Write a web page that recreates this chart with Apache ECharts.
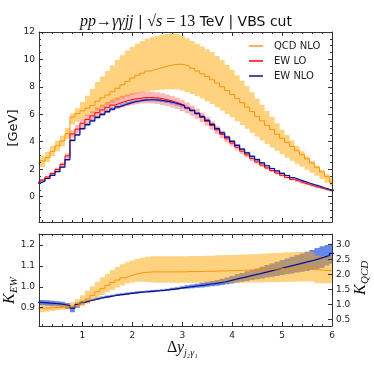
<!DOCTYPE html>
<html>
<head>
<meta charset="utf-8">
<script src="https://cdn.jsdelivr.net/npm/echarts@6/dist/echarts.min.js"></script>
<style>
  html, body { margin: 0; padding: 0; background: #fff; }
  #chart { width: 374px; height: 374px; }
</style>
</head>
<body>
<div id="chart"></div>
<script>
// bin centres, width 0.1
const binCenters = [0.1,0.2,0.3,0.4,0.5,0.6,0.7,0.8,0.9,1.0,
  1.1,1.2,1.3,1.4,1.5,1.6,1.7,1.8,1.9,2.0,
  2.1,2.2,2.3,2.4,2.5,2.6,2.7,2.8,2.9,3.0,
  3.1,3.2,3.3,3.4,3.5,3.6,3.7,3.8,3.9,4.0,
  4.1,4.2,4.3,4.4,4.5,4.6,4.7,4.8,4.9,5.0,
  5.1,5.2,5.3,5.4,5.5,5.6,5.7,5.8,5.9,6.0]

// QCD NLO
const qcdNlo = [2.45,2.60,2.85,3.30,3.70,4.05,4.60,5.80,6.05,6.25,
  6.45,6.65,6.95,7.20,7.40,7.65,7.90,8.15,8.40,8.65,
  8.85,9.00,9.15,9.25,9.35,9.45,9.55,9.62,9.65,9.62,
  9.50,9.35,9.15,8.95,8.75,8.52,8.28,8.00,7.72,7.45,
  7.15,6.85,6.52,6.20,5.85,5.52,5.20,4.88,4.55,4.25,
  3.95,3.65,3.35,3.05,2.75,2.45,2.15,1.80,1.45,1.05]
const qcdNloHigh = [2.90,2.95,3.25,3.70,4.10,4.45,5.00,6.05,6.45,6.90,
  7.35,7.85,8.35,8.75,9.15,9.55,9.95,10.30,10.65,10.90,
  11.15,11.35,11.50,11.62,11.72,11.80,11.86,11.90,11.88,11.75,
  11.55,11.35,11.15,10.95,10.75,10.55,10.25,9.95,9.60,9.25,
  8.85,8.45,8.05,7.60,7.15,6.70,6.25,5.80,5.35,4.90,
  4.50,4.10,3.70,3.30,2.95,2.60,2.25,1.95,1.65,1.35]
const qcdNloLow = [2.10,2.15,2.50,2.95,3.30,3.65,4.20,5.25,5.45,5.70,
  5.90,6.10,6.30,6.50,6.68,6.85,7.00,7.15,7.30,7.42,
  7.52,7.60,7.68,7.74,7.78,7.80,7.82,7.82,7.80,7.74,
  7.62,7.48,7.32,7.15,6.95,6.75,6.52,6.28,6.02,5.76,
  5.50,5.22,4.94,4.66,4.38,4.10,3.84,3.58,3.32,3.08,
  2.84,2.62,2.40,2.18,1.96,1.74,1.52,1.28,1.02,0.75]

// EW LO
const ewLo = [1.06,1.21,1.43,1.68,1.98,2.35,2.97,4.57,4.92,5.35,
  5.63,5.88,6.12,6.32,6.51,6.67,6.81,6.93,7.03,7.11,
  7.16,7.21,7.23,7.21,7.18,7.10,7.02,6.92,6.79,6.65,
  6.47,6.27,6.04,5.78,5.49,5.18,4.86,4.54,4.21,3.90,
  3.60,3.31,3.04,2.77,2.53,2.30,2.09,1.90,1.72,1.56,
  1.40,1.25,1.12,0.99,0.88,0.77,0.67,0.57,0.47,0.38]
const ewLoLow = [1.00,1.14,1.34,1.58,1.86,2.21,2.79,4.30,4.62,5.03,
  5.29,5.53,5.75,5.94,6.12,6.27,6.40,6.51,6.61,6.68,
  6.73,6.78,6.80,6.78,6.75,6.67,6.60,6.50,6.38,6.25,
  6.08,5.89,5.68,5.43,5.16,4.87,4.57,4.27,3.96,3.67,
  3.38,3.11,2.86,2.60,2.38,2.16,1.96,1.79,1.62,1.47,
  1.32,1.18,1.05,0.93,0.83,0.72,0.63,0.54,0.44,0.36]
const ewLoHigh = [1.12,1.28,1.52,1.78,2.10,2.49,3.15,4.84,5.22,5.67,
  5.97,6.23,6.49,6.70,6.90,7.07,7.22,7.35,7.45,7.54,
  7.59,7.64,7.66,7.64,7.61,7.53,7.44,7.34,7.20,7.05,
  6.86,6.65,6.40,6.13,5.82,5.49,5.15,4.81,4.46,4.13,
  3.82,3.51,3.22,2.94,2.68,2.44,2.22,2.01,1.82,1.65,
  1.48,1.33,1.19,1.05,0.93,0.82,0.71,0.60,0.50,0.40]

// EW NLO
const ewNlo = [0.98,1.12,1.32,1.55,1.82,2.15,2.70,4.10,4.50,4.95,
  5.25,5.52,5.78,6.00,6.20,6.38,6.54,6.68,6.80,6.90,
  6.97,7.03,7.06,7.06,7.04,6.98,6.92,6.84,6.74,6.62,
  6.46,6.28,6.07,5.83,5.56,5.26,4.95,4.64,4.33,4.03,
  3.74,3.46,3.19,2.93,2.69,2.46,2.25,2.05,1.87,1.70,
  1.54,1.38,1.24,1.11,0.99,0.87,0.76,0.65,0.54,0.44]
const ewNloLow = [0.93,1.07,1.27,1.50,1.77,2.08,2.62,4.02,4.42,4.86,
  5.15,5.42,5.68,5.90,6.10,6.28,6.44,6.58,6.70,6.80,
  6.87,6.93,6.96,6.96,6.94,6.88,6.82,6.74,6.64,6.52,
  6.36,6.18,5.97,5.73,5.46,5.16,4.86,4.56,4.25,3.95,
  3.66,3.38,3.11,2.85,2.61,2.39,2.18,1.99,1.82,1.65,
  1.49,1.33,1.19,1.06,0.94,0.83,0.72,0.61,0.50,0.40]
const ewNloHigh = [1.03,1.17,1.37,1.60,1.87,2.22,2.78,4.18,4.58,5.04,
  5.35,5.62,5.88,6.10,6.30,6.48,6.64,6.78,6.90,7.00,
  7.07,7.13,7.16,7.16,7.14,7.08,7.02,6.94,6.84,6.72,
  6.56,6.38,6.17,5.93,5.66,5.36,5.04,4.72,4.41,4.11,
  3.82,3.54,3.27,3.01,2.77,2.53,2.32,2.11,1.92,1.75,
  1.59,1.43,1.29,1.16,1.04,0.91,0.80,0.69,0.58,0.48]

// K_EW = NLO/LO (left axis of ratio panel)
const kEw = [0.925,0.924,0.922,0.920,0.918,0.915,0.910,0.898,0.915,0.925,
  0.932,0.938,0.944,0.949,0.953,0.957,0.961,0.964,0.967,0.970,
  0.973,0.975,0.977,0.979,0.981,0.983,0.986,0.989,0.992,0.996,
  0.999,1.002,1.005,1.008,1.012,1.015,1.019,1.023,1.028,1.034,
  1.040,1.045,1.051,1.057,1.062,1.068,1.074,1.080,1.086,1.092,
  1.098,1.104,1.110,1.116,1.122,1.128,1.135,1.142,1.150,1.160]
const kEwLow = [0.912,0.911,0.909,0.907,0.905,0.902,0.894,0.878,0.900,0.915,
  0.925,0.932,0.938,0.944,0.948,0.952,0.956,0.959,0.962,0.965,
  0.968,0.970,0.972,0.974,0.976,0.978,0.981,0.983,0.986,0.989,
  0.991,0.993,0.995,0.997,1.000,1.002,1.005,1.008,1.012,1.016,
  1.020,1.024,1.028,1.032,1.036,1.040,1.044,1.048,1.052,1.056,
  1.060,1.064,1.068,1.072,1.076,1.080,1.084,1.090,1.102,1.110]
const kEwHigh = [0.938,0.937,0.935,0.933,0.931,0.928,0.922,0.910,0.925,0.933,
  0.938,0.943,0.949,0.954,0.958,0.962,0.966,0.969,0.972,0.975,
  0.978,0.980,0.982,0.984,0.986,0.988,0.991,0.995,0.998,1.003,
  1.007,1.011,1.015,1.019,1.024,1.028,1.033,1.038,1.044,1.052,
  1.060,1.066,1.074,1.082,1.088,1.096,1.104,1.112,1.120,1.128,
  1.136,1.144,1.152,1.160,1.168,1.176,1.186,1.194,1.200,1.206]

// K_QCD (right axis of ratio panel)
const kQcd = [0.87,0.87,0.88,0.89,0.90,0.91,0.92,0.94,1.00,1.08,
  1.18,1.30,1.42,1.53,1.63,1.73,1.81,1.88,1.94,1.99,
  2.03,2.06,2.07,2.08,2.08,2.08,2.08,2.08,2.08,2.08,
  2.09,2.09,2.09,2.10,2.10,2.10,2.11,2.11,2.12,2.12,
  2.13,2.13,2.14,2.14,2.15,2.16,2.16,2.17,2.18,2.19,
  2.20,2.20,2.21,2.22,2.23,2.22,2.15,2.13,2.13,2.13]
const kQcdHigh = [0.98,0.98,0.98,0.98,0.99,1.00,1.02,1.07,1.17,1.30,
  1.45,1.60,1.75,1.90,2.02,2.14,2.24,2.33,2.40,2.46,
  2.51,2.55,2.58,2.60,2.60,2.60,2.60,2.60,2.60,2.60,
  2.60,2.61,2.61,2.61,2.62,2.62,2.63,2.63,2.64,2.64,
  2.65,2.65,2.66,2.67,2.67,2.68,2.69,2.70,2.71,2.72,
  2.73,2.73,2.74,2.74,2.75,2.74,2.62,2.60,2.60,2.60]
const kQcdLow = [0.72,0.74,0.76,0.78,0.80,0.82,0.84,0.88,0.90,0.94,
  1.02,1.12,1.22,1.31,1.40,1.48,1.56,1.63,1.69,1.73,
  1.75,1.75,1.74,1.73,1.72,1.72,1.72,1.72,1.72,1.72,
  1.72,1.72,1.72,1.72,1.72,1.72,1.72,1.72,1.72,1.72,
  1.72,1.72,1.72,1.73,1.73,1.73,1.74,1.74,1.74,1.74,
  1.75,1.75,1.76,1.76,1.76,1.76,1.70,1.70,1.70,1.70]

// ticks
const xMajorTicks = [1,2,3,4,5,6]
const xMinorTicks = [0.2,0.4,0.6,0.8,1.2,1.4,1.6,1.8,2.2,2.4,2.6,2.8,
  3.2,3.4,3.6,3.8,4.2,4.4,4.6,4.8,5.2,5.4,5.6,5.8]
const yMajorTicks = [0,2,4,6,8,10,12]
const yMinorTicks = [-1.5,-1,-0.5,0.5,1,1.5,2.5,3,3.5,4.5,5,5.5,6.5,7,7.5,
  8.5,9,9.5,10.5,11,11.5]
const kEwTicks = [0.9,1.0,1.1,1.2]
const kQcdTicks = [0.5,1.0,1.5,2.0,2.5,3.0]

const X_MIN = 0.13, X_MAX = 6
const HALF = 0.05
const axisColor = '#333'

// step line points (left edges + last right edge)
function stepData (vals) {
  let d = binCenters.map((c, i) => [c - HALF, vals[i]])
  let n = binCenters.length - 1
  d.push([binCenters[n] + HALF, vals[n]])
  return d
}

// filled band between low and high as one polygon
function band (name, low, high, color, xi, yi) {
  return {
    type: 'custom',
    name: name,
    xAxisIndex: xi,
    yAxisIndex: yi,
    silent: true,
    clip: true,
    data: [[1, 1]],
    renderItem: function (params, api) {
      let top = [], bot = []
      binCenters.forEach((c, i) => {
        let x0 = Math.max(c - HALF, X_MIN), x1 = Math.min(c + HALF, X_MAX)
        top.push(api.coord([x0, high[i]]), api.coord([x1, high[i]]))
        bot.push(api.coord([x0, low[i]]), api.coord([x1, low[i]]))
      })
      return { type: 'polygon', shape: { points: top.concat(bot.reverse()) }, style: { fill: color } }
    },
  }
}

function stepLine (name, vals, color, xi, yi, width) {
  return {
    type: 'line', name: name, xAxisIndex: xi, yAxisIndex: yi,
    data: stepData(vals), step: 'end', showSymbol: false, symbol: 'none',
    color: color, lineStyle: { color: color, width: width || 1 }, z: 3,
  }
}

function xAx (grid, pos, ticks, len, line, labels) {
  return {
    type: 'value', gridIndex: grid, position: pos, min: X_MIN, max: X_MAX, z: 10,
    axisLine: { show: line, onZero: false, lineStyle: { color: axisColor, width: 1 } },
    axisTick: { show: true, inside: true, length: len, customValues: ticks, lineStyle: { color: axisColor } },
    axisLabel: { show: labels, customValues: ticks, fontSize: 9, color: '#222', margin: 5, fontFamily: 'DejaVu Sans' },
    splitLine: { show: false },
  }
}

function yAx (grid, pos, min, max, ticks, len, line, labels, fmt) {
  return {
    type: 'value', gridIndex: grid, position: pos, min: min, max: max, z: 10,
    axisLine: { show: line, onZero: false, lineStyle: { color: axisColor, width: 1 } },
    axisTick: { show: true, inside: true, length: len, customValues: ticks, lineStyle: { color: axisColor } },
    axisLabel: { show: labels, customValues: ticks, fontSize: 9, color: '#222', margin: 4, fontFamily: 'DejaVu Sans', formatter: fmt },
    splitLine: { show: false },
  }
}

const serif = 'Liberation Serif'
const oneDec = v => v.toFixed(1)

let myChart = echarts.init(document.getElementById('chart'), null, { renderer: 'canvas' })
myChart.setOption({
  animation: false,
  backgroundColor: '#fff',
  textStyle: { fontFamily: 'DejaVu Sans' },
  grid: [
    { left: 39, right: 42, top: 32, height: 190 },
    { left: 39, right: 42, top: 234, height: 92 },
  ],
  legend: {
    data: ['QCD NLO', 'EW LO', 'EW NLO'],
    orient: 'vertical', left: 244, top: 35,
    icon: 'rect', itemWidth: 14, itemHeight: 1.5, itemGap: 3,
    selectedMode: false,
    textStyle: { fontSize: 10, color: '#222', lineHeight: 12, padding: [0, 0, 0, 6] },
  },
  xAxis: [
    xAx(0, 'bottom', xMajorTicks, 4, true, false),
    xAx(0, 'bottom', xMinorTicks, 2, false, false),
    xAx(0, 'top', xMajorTicks, 4, true, false),
    xAx(0, 'top', xMinorTicks, 2, false, false),
    xAx(1, 'bottom', xMajorTicks, 4, true, true),
    xAx(1, 'bottom', xMinorTicks, 2, false, false),
    xAx(1, 'top', xMajorTicks, 4, true, false),
    xAx(1, 'top', xMinorTicks, 2, false, false),
  ],
  yAxis: [
    yAx(0, 'left', -1.85, 12, yMajorTicks, 4, true, true),
    yAx(0, 'left', -1.85, 12, yMinorTicks, 2, false, false),
    yAx(0, 'right', -1.85, 12, yMajorTicks, 4, true, false),
    yAx(0, 'right', -1.85, 12, yMinorTicks, 2, false, false),
    yAx(1, 'left', 0.812, 1.253, kEwTicks, 4, true, true, oneDec),
    yAx(1, 'right', 0.28, 3.34, kQcdTicks, 4, true, true, oneDec),
  ],
  series: [
    band('QCD band', qcdNloLow, qcdNloHigh, 'rgba(255,165,0,0.5)', 0, 0),
    band('EW LO band', ewLoLow, ewLoHigh, 'rgba(255,0,0,0.28)', 0, 0),
    band('EW NLO band', ewNloLow, ewNloHigh, 'rgba(65,105,225,0.55)', 0, 0),
    stepLine('EW LO', ewLo, '#ff0000', 0, 0),
    stepLine('EW NLO', ewNlo, '#10108c', 0, 0, 1.2),
    stepLine('QCD NLO', qcdNlo, 'rgba(255,140,0,0.9)', 0, 0),

    band('K EW band', kEwLow, kEwHigh, 'rgba(65,105,225,0.8)', 4, 4),
    stepLine('K EW', kEw, '#10108c', 4, 4, 1.2),
    band('K QCD band', kQcdLow, kQcdHigh, 'rgba(255,165,0,0.5)', 4, 5),
    stepLine('K QCD', kQcd, 'rgba(255,140,0,0.9)', 4, 5),
  ],
  graphic: [
    {
      type: 'text', x: 186, y: 22, z: 20,
      style: {
        text: '{m|pp}{n|→}{m|γγjj}{s| | }{n|√}{m|s}{n| = 13}{s| TeV | VBS cut}',
        align: 'center', verticalAlign: 'middle',
        rich: {
          m: { fontFamily: serif, fontStyle: 'italic', fontSize: 16, fill: '#111' },
          n: { fontFamily: serif, fontSize: 16, fill: '#111' },
          s: { fontFamily: 'DejaVu Sans', fontSize: 14, fill: '#111' },
        },
      },
    },
    {
      type: 'text', x: 14, y: 128, rotation: Math.PI / 2,
      style: { text: '[GeV]', fontSize: 13, fontFamily: 'DejaVu Sans', fill: '#111', align: 'center', verticalAlign: 'middle' },
    },
    {
      type: 'group', x: 10, y: 291, rotation: Math.PI / 2,
      children: [
        { type: 'text', x: -13, y: 0, style: { text: 'K', fontSize: 16, fontFamily: serif, fontStyle: 'italic', fill: '#111', align: 'left', verticalAlign: 'middle' } },
        { type: 'text', x: -2, y: 4, style: { text: 'EW', fontSize: 11, fontFamily: serif, fontStyle: 'italic', fill: '#111', align: 'left', verticalAlign: 'middle' } },
      ],
    },
    {
      type: 'group', x: 361, y: 276, rotation: Math.PI / 2,
      children: [
        { type: 'text', x: -19, y: 0, style: { text: 'K', fontSize: 16, fontFamily: serif, fontStyle: 'italic', fill: '#111', align: 'left', verticalAlign: 'middle' } },
        { type: 'text', x: -8, y: 4, style: { text: 'QCD', fontSize: 11, fontFamily: serif, fontStyle: 'italic', fill: '#111', align: 'left', verticalAlign: 'middle' } },
      ],
    },
    {
      type: 'group', x: 0, y: 0,
      children: [
        { type: 'text', x: 167, y: 348, style: { text: 'Δ', fontSize: 16, fontFamily: serif, fill: '#111', align: 'left', verticalAlign: 'middle' } },
        { type: 'text', x: 177, y: 348, style: { text: 'y', fontSize: 16, fontFamily: serif, fontStyle: 'italic', fill: '#111', align: 'left', verticalAlign: 'middle' } },
        { type: 'text', x: 184, y: 353, style: { text: 'j₂γ₁', fontSize: 10, fontFamily: serif, fontStyle: 'italic', fill: '#111', align: 'left', verticalAlign: 'middle' } },
      ],
    },
  ],
})
</script>
</body>
</html>
